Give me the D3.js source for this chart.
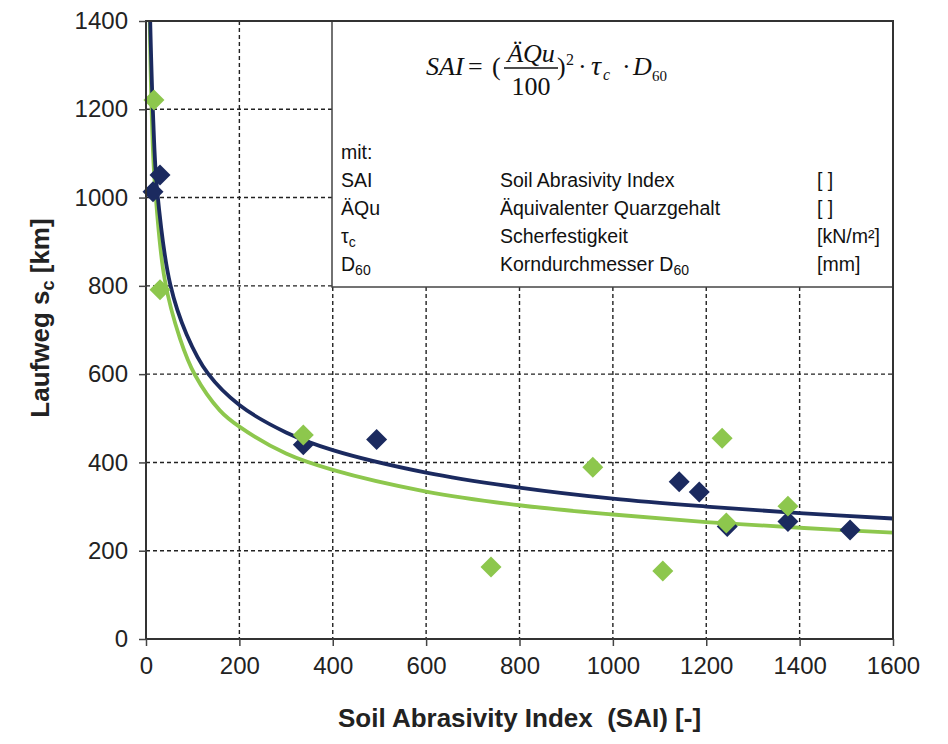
<!DOCTYPE html>
<html>
<head>
<meta charset="utf-8">
<script src="https://cdn.jsdelivr.net/npm/d3@7"></script>
<style>
  body { margin: 0; background: #fff; }
  svg { display: block; }
</style>
</head>
<body>
<div id="chart"></div>
<script>
// axis ticks
const xTicks = [0, 200, 400, 600, 800, 1000, 1200, 1400, 1600];
const yTicks = [0, 200, 400, 600, 800, 1000, 1200, 1400];

// measured points (SAI, Laufweg)
const navyX = [15, 30, 337, 494, 1142, 1185, 1245, 1375, 1508];
const navyY = [1013, 1051, 440, 452, 356, 333, 255, 266, 247];
const greenX = [17, 30, 337, 739, 957, 1107, 1234, 1243, 1375];
const greenY = [1221, 791, 462, 163, 389, 154, 455, 263, 301];

// trend curves
const navyCurveX = [9, 15, 24, 52, 87, 133, 200, 300, 400, 600, 800, 1000, 1200, 1400, 1600];
const navyCurveY = [1400, 1190, 1015, 803, 690, 601, 530, 468, 428, 377, 343, 318, 300, 285, 273];
const greenCurveX = [8, 11, 18, 40, 73, 105, 158, 200, 300, 400, 600, 800, 1000, 1200, 1400, 1600];
const greenCurveY = [1400, 1240, 1045, 815, 680, 598, 518, 481, 420, 383, 334, 303, 282, 265, 252, 241];

// text box rows
const boxSym = [["SAI", ""], ["ÄQu", ""], ["τ", "c"], ["D", "60"]];
const boxDesc = [["Soil Abrasivity Index", ""], ["Äquivalenter Quarzgehalt", ""], ["Scherfestigkeit", ""], ["Korndurchmesser D", "60"]];
const boxUnit = ["[ ]", "[ ]", "[kN/m²]", "[mm]"];

const W = 948, H = 744;
const pL = 146, pR = 893, pT = 21, pB = 639;
const navy = "#1b2a5f", green = "#8dc74d";
const sans = "'Liberation Sans', Arial, sans-serif";
const serif = "'Liberation Serif', 'Times New Roman', serif";

const svg = d3.select("#chart").append("svg")
  .attr("width", W).attr("height", H);

const x = d3.scaleLinear().domain([0, 1600]).range([pL, pR]);
const y = d3.scaleLinear().domain([0, 1400]).range([pB, pT]);

// grid
const grid = svg.append("g").attr("stroke", "#222").attr("stroke-width", 1.4)
  .attr("stroke-dasharray", "4,3");
xTicks.slice(1, -1).forEach(t => {
  grid.append("line").attr("x1", x(t)).attr("x2", x(t)).attr("y1", pT).attr("y2", pB);
});
yTicks.slice(1, -1).forEach(t => {
  grid.append("line").attr("x1", pL).attr("x2", pR).attr("y1", y(t)).attr("y2", y(t));
});

// text box
const bx = 332, by = pT, bw = pR - 332, bh = 287 - pT;
svg.append("rect").attr("x", bx).attr("y", by).attr("width", bw).attr("height", bh)
  .attr("fill", "#fff").attr("stroke", "#444").attr("stroke-width", 1.5);

// formula
const f = svg.append("g").attr("font-family", serif).attr("font-size", 26).attr("fill", "#111");
f.append("text").attr("x", 426).attr("y", 75).attr("font-style", "italic").text("SAI");
f.append("text").attr("x", 468).attr("y", 75).text("=");
f.append("text").attr("x", 492).attr("y", 75).text("(");
f.append("text").attr("x", 531).attr("y", 62).attr("text-anchor", "middle").attr("font-style", "italic").text("ÄQu");
f.append("line").attr("x1", 504).attr("x2", 558).attr("y1", 68).attr("y2", 68)
  .attr("stroke", "#111").attr("stroke-width", 1.3);
f.append("text").attr("x", 531).attr("y", 95).attr("text-anchor", "middle").text("100");
f.append("text").attr("x", 557).attr("y", 75).text(")");
f.append("text").attr("x", 566).attr("y", 65).attr("font-size", 16).text("2");
f.append("text").attr("x", 578).attr("y", 75).text("·");
f.append("text").attr("x", 591).attr("y", 75).attr("font-style", "italic").attr("font-size", 28).text("τ");
f.append("text").attr("x", 603).attr("y", 80).attr("font-size", 16).attr("font-style", "italic").text("c");
f.append("text").attr("x", 622).attr("y", 75).text("·");
f.append("text").attr("x", 633).attr("y", 75).attr("font-style", "italic").text("D");
f.append("text").attr("x", 652).attr("y", 81).attr("font-size", 15).text("60");

// legend rows
const lg = svg.append("g").attr("font-family", sans).attr("font-size", 19.5).attr("fill", "#111");
lg.append("text").attr("x", 341).attr("y", 159).text("mit:");
function withSub(g, xx, yy, pair) {
  const t = g.append("text").attr("x", xx).attr("y", yy);
  t.append("tspan").text(pair[0]);
  if (pair[1]) t.append("tspan").attr("dy", 4).attr("font-size", 14).text(pair[1]);
}
boxSym.forEach((s, i) => {
  const yy = 187 + i * 28;
  withSub(lg, 341, yy, s);
  withSub(lg, 500, yy, boxDesc[i]);
  lg.append("text").attr("x", 817).attr("y", yy).text(boxUnit[i]);
});

// curves
const line = d3.line().x(d => x(d[0])).y(d => y(d[1])).curve(d3.curveCatmullRom.alpha(0.5));
svg.append("path").datum(d3.zip(greenCurveX, greenCurveY)).attr("d", line)
  .attr("fill", "none").attr("stroke", green).attr("stroke-width", 3.8);
svg.append("path").datum(d3.zip(navyCurveX, navyCurveY)).attr("d", line)
  .attr("fill", "none").attr("stroke", navy).attr("stroke-width", 3.8);

// diamonds
const diamond = d3.symbol().type(d3.symbolSquare).size(220);
function drawPoints(xs, ys, color) {
  svg.append("g").selectAll("path").data(d3.zip(xs, ys)).join("path")
    .attr("d", diamond)
    .attr("transform", d => `translate(${x(d[0])},${y(d[1])}) rotate(45)`)
    .attr("fill", color);
}
drawPoints(navyX, navyY, navy);
drawPoints(greenX, greenY, green);

// frame
svg.append("rect").attr("x", pL).attr("y", pT).attr("width", pR - pL).attr("height", pB - pT)
  .attr("fill", "none").attr("stroke", "#333").attr("stroke-width", 2);

// axes
const fmt = d3.format("d");
const xAxis = svg.append("g").attr("transform", `translate(0,${pB})`)
  .call(d3.axisBottom(x).tickValues(xTicks).tickFormat(fmt).tickSize(7).tickSizeOuter(0).tickPadding(11));
const yAxis = svg.append("g").attr("transform", `translate(${pL},0)`)
  .call(d3.axisLeft(y).tickValues(yTicks).tickFormat(fmt).tickSize(7).tickSizeOuter(0).tickPadding(11));
[xAxis, yAxis].forEach(a => {
  a.select(".domain").remove();
  a.selectAll(".tick line").attr("stroke", "#444").attr("stroke-width", 1.5);
  a.selectAll("text").attr("font-family", sans).attr("font-size", 24).attr("fill", "#222");
});

// axis titles
svg.append("text").attr("x", (pL + pR) / 2).attr("y", 727)
  .attr("text-anchor", "middle").attr("font-family", sans).attr("font-weight", "bold")
  .attr("font-size", 26).attr("fill", "#222").style("white-space", "pre")
  .text("Soil Abrasivity Index  (SAI) [-]");

const yt = svg.append("text").attr("transform", "translate(49,318) rotate(-90)")
  .attr("text-anchor", "middle").attr("font-family", sans).attr("font-weight", "bold")
  .attr("font-size", 26).attr("fill", "#222");
yt.append("tspan").text("Laufweg s");
yt.append("tspan").attr("dy", 5).attr("font-size", 18).text("c");
yt.append("tspan").attr("dy", -5).text(" [km]");
</script>
</body>
</html>
